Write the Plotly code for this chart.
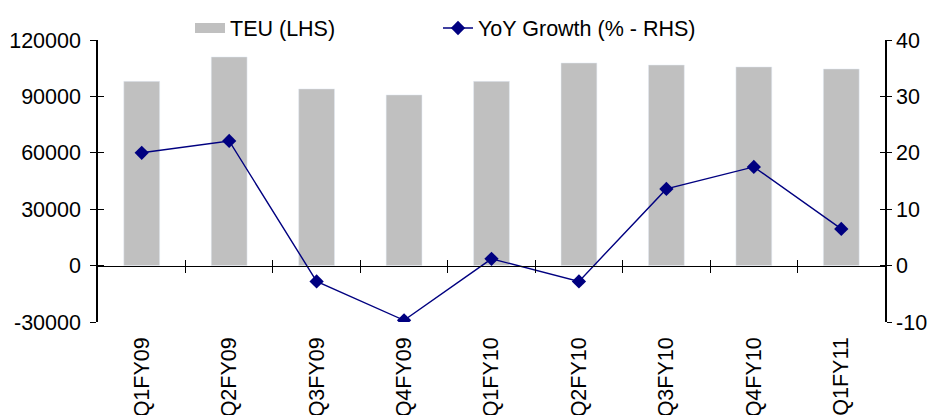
import plotly.graph_objects as go

categories = ["Q1FY09", "Q2FY09", "Q3FY09", "Q4FY09", "Q1FY10", "Q2FY10", "Q3FY10", "Q4FY10", "Q1FY11"]
teu = [98000, 111000, 94000, 90800, 98000, 107800, 106700, 105700, 104600]
yoy = [20.0, 22.1, -2.8, -9.7, 1.2, -2.8, 13.6, 17.5, 6.5]

left_ticks = [-30000, 0, 30000, 60000, 90000, 120000]
right_ticks = [-10, 0, 10, 20, 30, 40]

FONT = "Liberation Sans, Arial, sans-serif"
FS = 21.5
boundaries = [i + 0.5 for i in range(len(categories) - 1)]

fig = go.Figure()
fig.add_trace(go.Bar(x=categories, y=teu, marker_color="#C0C0C0", showlegend=False,
                     xaxis="x", yaxis="y"))
# legend proxy for bars
fig.add_trace(go.Scatter(x=[None], y=[None], mode="lines", name="TEU (LHS)",
                         line=dict(color="#C0C0C0", width=14), xaxis="x", yaxis="y",
                         legend="legend"))
fig.add_trace(go.Scatter(x=categories, y=yoy, mode="lines+markers", name="YoY Growth (% - RHS)",
                         line=dict(color="#000080", width=1.4),
                         marker=dict(symbol="diamond", size=11, color="#000080"),
                         xaxis="x", yaxis="y2", legend="legend2"))

yr = [left_ticks[0], left_ticks[-1]]
y2r = [right_ticks[0], right_ticks[-1]]
zero_pos = -yr[0] / (yr[1] - yr[0])

leg_common = dict(orientation="h", xanchor="left", y=1 + 12 / 282, yanchor="middle",
                  font=dict(size=FS), bgcolor="rgba(0,0,0,0)")

fig.update_layout(
    width=934, height=415,
    margin=dict(l=98, r=49, t=40, b=93, autoexpand=False),
    paper_bgcolor="white", plot_bgcolor="white",
    font=dict(family=FONT, size=FS, color="black"),
    bargap=0.59,
    showlegend=True,
    legend=dict(x=(190 - 98) / 787, **leg_common),
    legend2=dict(x=(438 - 98) / 787, **leg_common),
    xaxis=dict(type="category", categoryarray=categories, range=[-0.5, len(categories) - 0.5],
               showline=False, ticks="", tickangle=-90, showgrid=False, zeroline=False,
               ticklabelstandoff=10, automargin=False),
    xaxis2=dict(overlaying="x", anchor="free", position=zero_pos, range=[-0.5, len(categories) - 0.5],
                tickvals=boundaries, ticks="outside", ticklen=6, tickwidth=1.3, tickcolor="black",
                showline=True, linecolor="black", linewidth=1.3, showticklabels=False,
                showgrid=False, zeroline=False, automargin=False),
    xaxis3=dict(overlaying="x", anchor="free", position=zero_pos, range=[-0.5, len(categories) - 0.5],
                tickvals=boundaries, ticks="inside", ticklen=6, tickwidth=1.3, tickcolor="black",
                showline=False, showticklabels=False, showgrid=False, zeroline=False, automargin=False),
    yaxis=dict(range=yr, tickvals=left_ticks, ticktext=[str(v) for v in left_ticks],
               ticks="outside", ticklen=6, tickwidth=1.3,
               tickcolor="black", showline=True, linecolor="black", linewidth=1.5,
               showgrid=False, zeroline=False, ticklabelstandoff=5, automargin=False),
    yaxis2=dict(range=y2r, tickvals=right_ticks, ticktext=[str(v) for v in right_ticks],
                overlaying="y", side="right", ticks="outside",
                ticklen=5, tickwidth=1.3, tickcolor="black", showline=True, linecolor="black",
                linewidth=1.5, showgrid=False, zeroline=False, ticklabelstandoff=0, automargin=False),
    yaxis3=dict(range=yr, tickvals=left_ticks, overlaying="y", side="left", ticks="inside",
                ticklen=6, tickwidth=1.3, tickcolor="black", showline=False,
                showticklabels=False, showgrid=False, zeroline=False, automargin=False),
    yaxis4=dict(range=y2r, tickvals=right_ticks, overlaying="y", side="right", ticks="inside",
                ticklen=5, tickwidth=1.3, tickcolor="black", showline=False,
                showticklabels=False, showgrid=False, zeroline=False, automargin=False),
)
# invisible traces to activate extra axes
fig.add_trace(go.Scatter(x=[None], y=[None], xaxis="x2", yaxis="y3", showlegend=False, hoverinfo="skip"))
fig.add_trace(go.Scatter(x=[None], y=[None], xaxis="x3", yaxis="y4", showlegend=False, hoverinfo="skip"))

fig.write_html("out.html")
